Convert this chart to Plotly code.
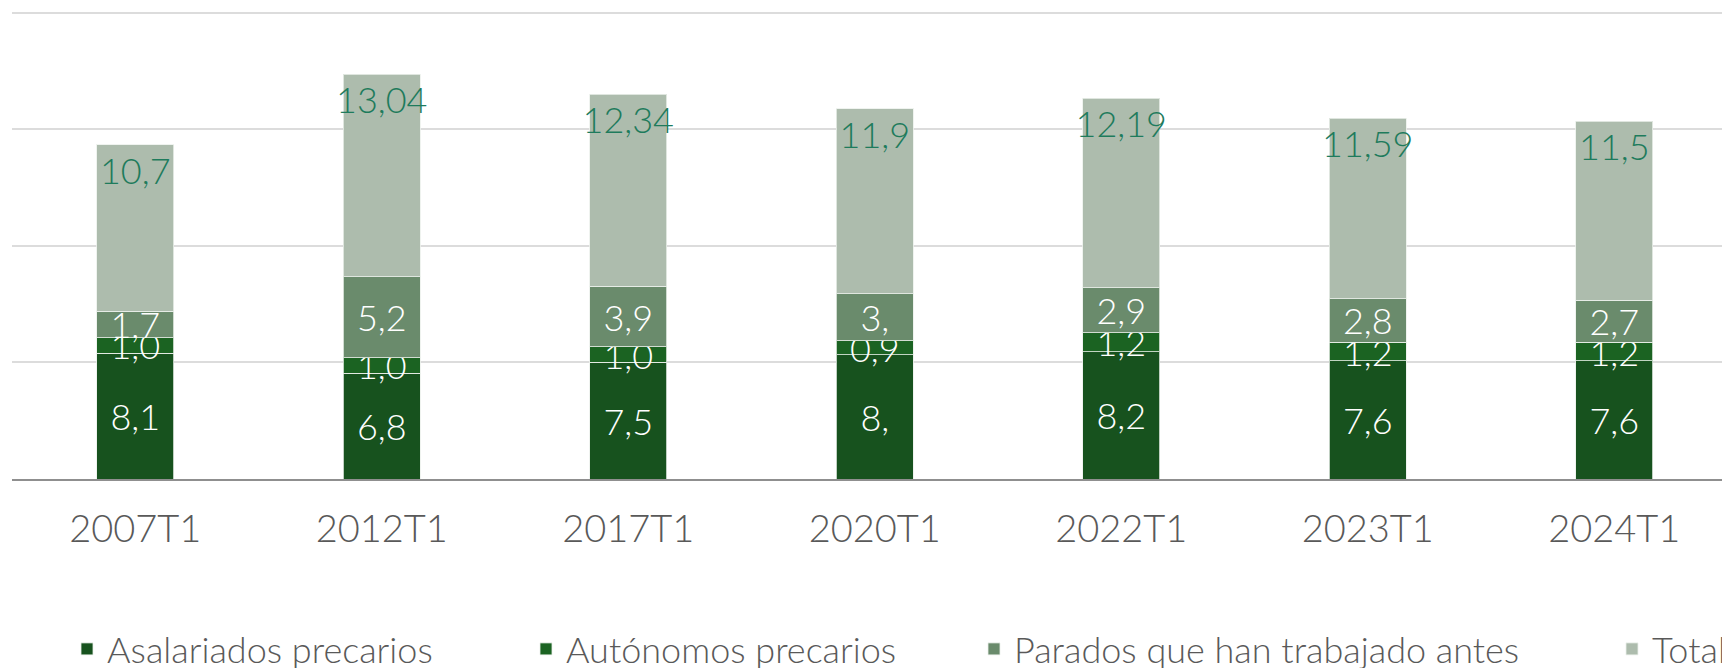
import plotly.graph_objects as go

# ---- data ----
categories = ["2007T1", "2012T1", "2017T1", "2020T1", "2022T1", "2023T1", "2024T1"]
asalariados = [8.1, 6.8, 7.5, 8.0, 8.2, 7.6, 7.6]
autonomos = [1.0, 1.0, 1.0, 0.9, 1.2, 1.2, 1.2]
parados = [1.7, 5.2, 3.9, 3.0, 2.9, 2.8, 2.7]
total = [10.7, 13.04, 12.34, 11.9, 12.19, 11.59, 11.5]

asalariados_labels = ["8,1", "6,8", "7,5", "8,", "8,2", "7,6", "7,6"]
autonomos_labels = ["1,0", "1,0", "1,0", "0,9", "1,2", "1,2", "1,2"]
parados_labels = ["1,7", "5,2", "3,9", "3,", "2,9", "2,8", "2,7"]
total_labels = ["10,7", "13,04", "12,34", "11,9", "12,19", "11,59", "11,5"]

series_names = ["Asalariados precarios", "Autónomos precarios",
                "Parados que han trabajado antes", "Total"]

# ---- style ----
W, H = 1722, 668
FONT = "Lato, 'Open Sans', sans-serif"
colors = ["#17521e", "#1b6322", "#6a8b6c", "#adbcad"]
label_colors = ["#ffffff", "#ffffff", "#ffffff", "#1e7b5c"]
legend_left_px = [67, 526, 974, 1612]

fig = go.Figure()
data_sets = [
    (asalariados, asalariados_labels),
    (autonomos, autonomos_labels),
    (parados, parados_labels),
    (total, total_labels),
]
for i, (vals, labs) in enumerate(data_sets):
    is_total = i == 3
    fig.add_trace(go.Bar(
        x=categories, y=vals, name=series_names[i],
        text=labs,
        textposition="inside",
        insidetextanchor="end" if is_total else "middle",
        textangle=0,
        constraintext="none",
        textfont=dict(family=FONT, size=36, color=label_colors[i], weight=300),
        marker=dict(color=colors[i], line=dict(color="rgba(235,240,235,0.8)", width=1)),
        legend="legend" if i == 0 else f"legend{i+1}",
        hoverinfo="skip",
    ))

layout_legends = {}
for i, lx in enumerate(legend_left_px):
    key = "legend" if i == 0 else f"legend{i+1}"
    layout_legends[key] = dict(
        orientation="h",
        xref="container", yref="container",
        x=lx / W, xanchor="left",
        y=(H - 649) / H, yanchor="middle",
        font=dict(family=FONT, size=36, color="#595959", weight=300),
        bgcolor="rgba(0,0,0,0)",
    )

fig.update_layout(
    width=W, height=H,
    margin=dict(l=12, r=0, t=10.5, b=189),
    barmode="stack",
    bargap=0.6876,
    paper_bgcolor="white",
    plot_bgcolor="white",
    showlegend=True,
    **layout_legends,
    xaxis=dict(
        type="category",
        range=[-0.5, 6.437],
        showline=True, linecolor="#8f8f8f", linewidth=2,
        showgrid=False, ticks="",
        tickfont=dict(family=FONT, size=38, color="#595959", weight=300),
        ticklabelstandoff=15,
    ),
    yaxis=dict(
        range=[0, 30.1],
        tickvals=[0, 7.5, 15, 22.5, 30],
        showticklabels=False,
        showgrid=True, gridcolor="#dcdcdc", gridwidth=2,
        zeroline=False,
    ),
)

fig.write_html(
    "out.html",
    config={"displayModeBar": False},
    post_script="document.body.style.margin='0';document.documentElement.style.overflow='hidden';document.body.style.overflow='hidden';",
)
